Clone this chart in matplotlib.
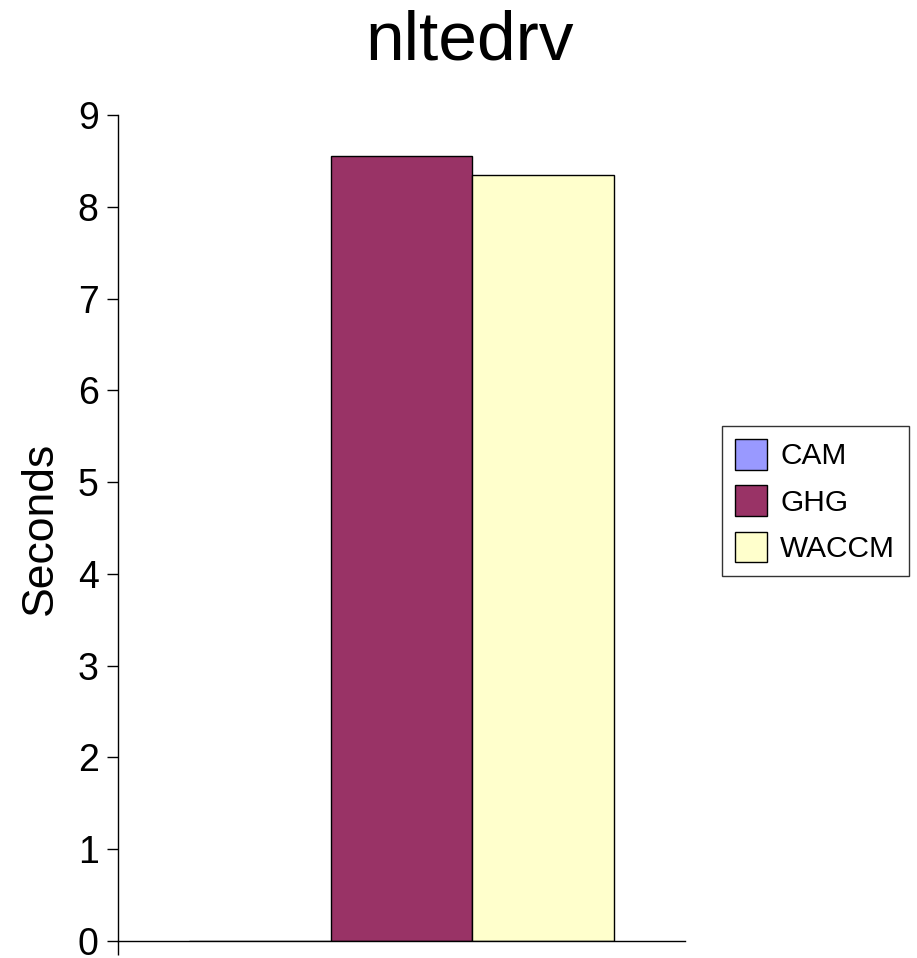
import matplotlib.pyplot as plt
import numpy as np

plt.rcParams['font.family'] = ['Liberation Sans', 'DejaVu Sans']

series = ['CAM', 'GHG', 'WACCM']
values = [0.0, 8.55, 8.35]
colors = ['#9999FF', '#993366', '#FFFFCC']
yticks = [0, 1, 2, 3, 4, 5, 6, 7, 8, 9]

fig = plt.figure(figsize=(9.17, 9.58), dpi=100)
ax = fig.add_axes([118 / 917, 17 / 958, 567 / 917, 826 / 958])

w = 0.25
pos = np.array([-0.25, 0.0, 0.25])
for p, v, c, s in zip(pos, values, colors, series):
    ax.bar(p, v, width=w, color=c, edgecolor='black', linewidth=1.0, label=s)

ax.set_xlim(-0.5, 0.5)
ax.set_ylim(0, 9)
ax.set_yticks(yticks)
ax.set_yticklabels([str(t) for t in yticks], fontsize=27)
ax.set_xticks([-0.5])
ax.set_xticklabels([''])
ax.tick_params(axis='y', direction='out', length=8, width=1, pad=6)
ax.tick_params(axis='x', direction='out', length=10, width=1)
ax.spines['top'].set_visible(False)
ax.spines['right'].set_visible(False)
ax.spines['left'].set_linewidth(1)
ax.spines['bottom'].set_linewidth(1)

ax.set_ylabel('Seconds', fontsize=32, labelpad=12)
fig.text(470 / 917, 1 - 41 / 958, 'nltedrv', fontsize=50, ha='center', va='center')

leg = ax.legend(loc='center left', bbox_to_anchor=(722 / 917, 1 - 501 / 958),
                bbox_transform=fig.transFigure, fontsize=21.5, frameon=True,
                fancybox=False, edgecolor='black', handlelength=1.05,
                handleheight=1.2, handletextpad=0.45, labelspacing=0.5,
                borderpad=0.45, borderaxespad=0)
leg.get_frame().set_linewidth(1)

fig.savefig('out.png', dpi=100, facecolor='white')
